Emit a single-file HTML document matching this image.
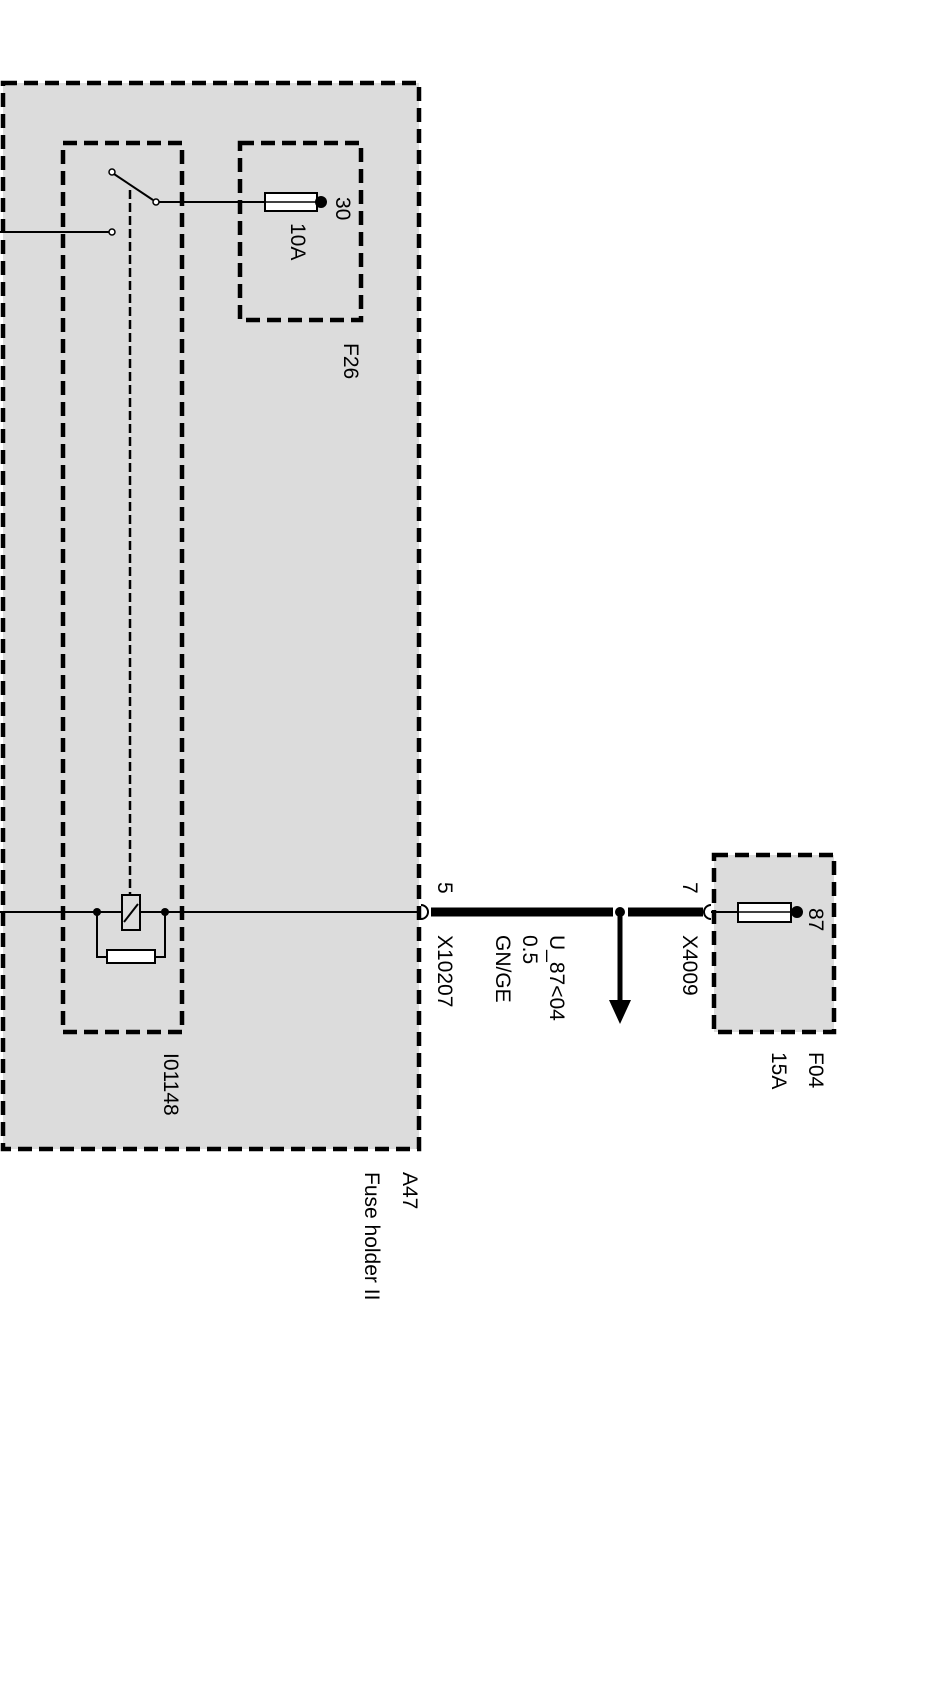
<!DOCTYPE html>
<html><head><meta charset="utf-8"><style>html,body{margin:0;padding:0;background:#fff}svg{display:block}</style></head>
<body>
<svg width="941" height="1708" viewBox="0 0 941 1708" xmlns="http://www.w3.org/2000/svg" font-family="Liberation Sans, sans-serif" font-size="21" fill="#000">
<rect x="3" y="83" width="416" height="1066" fill="#dcdcdc" stroke="#000" stroke-width="4.5" stroke-dasharray="14,7"/>
<rect x="63" y="143" width="119" height="889" fill="none" stroke="#000" stroke-width="4.5" stroke-dasharray="14,7"/>
<rect x="240" y="143" width="121" height="177" fill="none" stroke="#000" stroke-width="4.5" stroke-dasharray="14,7"/>
<rect x="714" y="855" width="120" height="177" fill="#dcdcdc" stroke="#000" stroke-width="4.5" stroke-dasharray="14,7"/>
<!-- switch -->
<line x1="0" y1="232" x2="109" y2="232" stroke="#000" stroke-width="2"/>
<circle cx="112" cy="232" r="3" fill="#fff" stroke="#000" stroke-width="1.5"/>
<circle cx="112" cy="172" r="3" fill="#fff" stroke="#000" stroke-width="1.5"/>
<line x1="114" y1="174" x2="153" y2="200" stroke="#000" stroke-width="2"/>
<circle cx="156" cy="202" r="3" fill="#fff" stroke="#000" stroke-width="1.5"/>
<line x1="159" y1="202" x2="265" y2="202" stroke="#000" stroke-width="2"/>
<rect x="265" y="193" width="52" height="18" fill="#fff" stroke="#000" stroke-width="2"/>
<line x1="265" y1="202" x2="320" y2="202" stroke="#000" stroke-width="1.5"/>
<circle cx="321" cy="202" r="6"/>
<line x1="130" y1="190" x2="130" y2="895" stroke="#000" stroke-width="2.5" stroke-dasharray="9,4"/>
<!-- relay -->
<line x1="0" y1="912" x2="419" y2="912" stroke="#000" stroke-width="2"/>
<rect x="122" y="895" width="18" height="35" fill="#dcdcdc" stroke="#000" stroke-width="2"/>
<line x1="124" y1="922" x2="138" y2="904" stroke="#000" stroke-width="2"/>
<circle cx="97" cy="912" r="4"/><circle cx="165" cy="912" r="4"/>
<polyline points="97,912 97,957 107,957" fill="none" stroke="#000" stroke-width="2"/>
<polyline points="165,912 165,957 155,957" fill="none" stroke="#000" stroke-width="2"/>
<rect x="107" y="950" width="48" height="13" fill="#fff" stroke="#000" stroke-width="2"/>
<!-- harness -->
<path d="M421,905 A7,7 0 0 1 421,919" fill="none" stroke="#000" stroke-width="2"/>
<line x1="431" y1="912" x2="613" y2="912" stroke="#000" stroke-width="9"/>
<circle cx="620" cy="912" r="5"/>
<line x1="628" y1="912" x2="703" y2="912" stroke="#000" stroke-width="9"/>
<path d="M711,905 A7,7 0 0 0 711,919" fill="none" stroke="#000" stroke-width="2"/>
<line x1="711" y1="912" x2="740" y2="912" stroke="#000" stroke-width="2"/>
<line x1="620" y1="912" x2="620" y2="1002" stroke="#000" stroke-width="5"/>
<polygon points="609,1000 631,1000 620,1024"/>
<rect x="738" y="903" width="53" height="19" fill="#fff" stroke="#000" stroke-width="2"/>
<line x1="738" y1="912" x2="796" y2="912" stroke="#000" stroke-width="1.5"/>
<circle cx="797" cy="912" r="6"/>
<!-- labels (rotated) -->
<g>
<text transform="translate(336,197) rotate(90)">30</text>
<text transform="translate(291,223) rotate(90)">10A</text>
<text transform="translate(344,343) rotate(90)">F26</text>
<text transform="translate(164,1053) rotate(90)">I01148</text>
<text transform="translate(438,882) rotate(90)">5</text>
<text transform="translate(438,935) rotate(90)">X10207</text>
<text transform="translate(550,935) rotate(90)">U_87&lt;04</text>
<text transform="translate(523,935) rotate(90)">0.5</text>
<text transform="translate(496,935) rotate(90)">GN/GE</text>
<text transform="translate(683,882) rotate(90)">7</text>
<text transform="translate(683,935) rotate(90)">X4009</text>
<text transform="translate(809,908) rotate(90)">87</text>
<text transform="translate(809,1052) rotate(90)">F04</text>
<text transform="translate(772,1052) rotate(90)">15A</text>
<text transform="translate(403,1172) rotate(90)">A47</text>
<text transform="translate(365,1172) rotate(90)">Fuse holder II</text>
</g>
</svg>
</body></html>
